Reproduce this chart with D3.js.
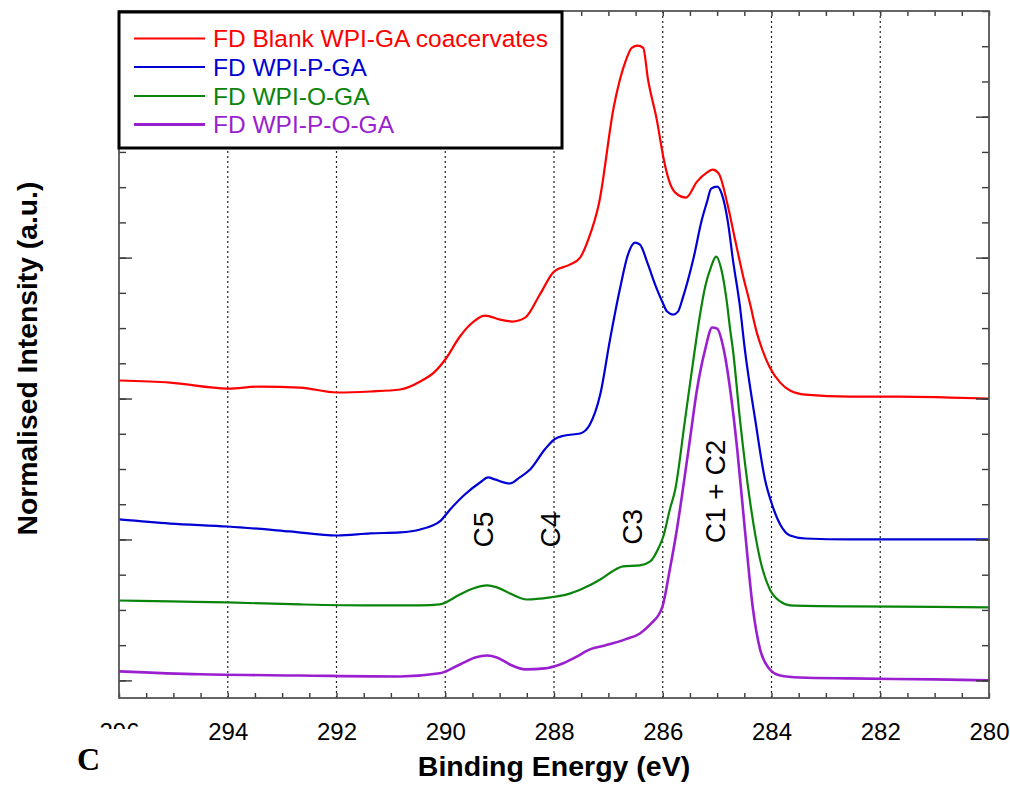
<!DOCTYPE html>
<html>
<head>
<meta charset="utf-8">
<script src="https://cdn.jsdelivr.net/npm/d3@7"></script>
<style>
  html, body { margin: 0; padding: 0; background: #fff; }
  svg { display: block; }
</style>
</head>
<body>
<svg id="chart" width="1010" height="785"></svg>
<script>
// C 1s XPS spectra, offset stacked (binding energy in eV, normalised intensity)
const seriesNames = ["FD Blank WPI-GA coacervates", "FD WPI-P-GA", "FD WPI-O-GA", "FD WPI-P-O-GA"];
const seriesColors = ["#ff0000", "#0000d4", "#0a840a", "#9a1fd0"];
const seriesWidths = [2.2, 2.2, 2.2, 2.6];

const blankEnergy = [296.00, 295.06, 294.00, 293.41, 292.67, 291.99, 291.38, 290.83, 290.46, 290.19, 290.00, 289.73, 289.54, 289.27, 288.99, 288.77, 288.53, 288.26, 288.00, 287.71, 287.52, 287.37, 287.17, 286.90, 286.68, 286.57, 286.46, 286.36, 286.27, 286.11, 285.98, 285.89, 285.77, 285.57, 285.37, 285.19, 285.08, 284.97, 284.80, 284.67, 284.52, 284.40, 284.27, 284.17, 284.03, 283.84, 283.66, 283.38, 282.56, 281.64, 280.72, 280.00];
const blankIntensity = [2.128, 2.113, 2.071, 2.085, 2.078, 2.043, 2.050, 2.064, 2.121, 2.191, 2.277, 2.440, 2.525, 2.589, 2.560, 2.546, 2.574, 2.738, 2.901, 2.950, 3.000, 3.128, 3.390, 4.071, 4.397, 4.489, 4.504, 4.489, 4.262, 3.979, 3.695, 3.553, 3.461, 3.426, 3.539, 3.603, 3.624, 3.596, 3.362, 3.128, 2.865, 2.681, 2.468, 2.348, 2.220, 2.113, 2.057, 2.028, 2.014, 2.014, 2.007, 2.000];

const pEnergy = [296.00, 295.06, 294.00, 292.86, 291.99, 291.38, 290.83, 290.46, 290.10, 289.91, 289.64, 289.36, 289.21, 289.09, 288.81, 288.63, 288.44, 288.17, 288.00, 287.80, 287.52, 287.34, 287.15, 286.97, 286.79, 286.64, 286.51, 286.42, 286.27, 286.14, 286.01, 285.92, 285.81, 285.72, 285.63, 285.44, 285.28, 285.19, 285.11, 285.00, 284.91, 284.80, 284.71, 284.58, 284.49, 284.30, 284.12, 283.99, 283.84, 283.66, 283.38, 282.56, 281.00, 280.00];
const pIntensity = [1.142, 1.113, 1.092, 1.057, 1.028, 1.043, 1.050, 1.071, 1.128, 1.213, 1.319, 1.404, 1.440, 1.426, 1.397, 1.440, 1.496, 1.638, 1.709, 1.738, 1.752, 1.816, 2.028, 2.418, 2.773, 3.021, 3.106, 3.092, 2.950, 2.809, 2.688, 2.617, 2.596, 2.617, 2.716, 2.986, 3.270, 3.390, 3.489, 3.504, 3.447, 3.248, 2.986, 2.652, 2.348, 1.851, 1.426, 1.248, 1.106, 1.028, 1.007, 1.000, 1.000, 1.000];

const oEnergy = [296.00, 295.06, 294.00, 292.67, 291.38, 290.46, 290.10, 289.73, 289.49, 289.23, 289.05, 288.81, 288.50, 288.07, 287.76, 287.47, 287.15, 286.93, 286.73, 286.42, 286.23, 286.09, 285.99, 285.87, 285.77, 285.59, 285.41, 285.32, 285.22, 285.11, 285.02, 284.91, 284.82, 284.76, 284.71, 284.58, 284.40, 284.21, 284.03, 283.84, 283.66, 282.56, 281.00, 280.00];
const oIntensity = [0.567, 0.560, 0.553, 0.539, 0.532, 0.532, 0.539, 0.610, 0.652, 0.674, 0.660, 0.617, 0.574, 0.589, 0.610, 0.652, 0.716, 0.773, 0.809, 0.816, 0.844, 0.929, 1.021, 1.213, 1.355, 1.851, 2.348, 2.582, 2.794, 2.936, 3.007, 2.894, 2.681, 2.489, 2.348, 1.851, 1.284, 0.858, 0.645, 0.560, 0.532, 0.525, 0.522, 0.518];

const poEnergy = [296.00, 294.51, 292.67, 290.83, 290.10, 289.73, 289.45, 289.23, 289.05, 288.81, 288.53, 288.17, 287.89, 287.61, 287.34, 287.06, 286.69, 286.42, 286.23, 286.01, 285.87, 285.74, 285.63, 285.50, 285.37, 285.22, 285.09, 285.00, 284.89, 284.76, 284.63, 284.49, 284.34, 284.21, 284.06, 283.84, 283.48, 282.56, 281.00, 280.00];
const poIntensity = [0.064, 0.043, 0.035, 0.028, 0.050, 0.113, 0.163, 0.177, 0.163, 0.113, 0.078, 0.085, 0.113, 0.163, 0.220, 0.248, 0.291, 0.333, 0.397, 0.518, 0.787, 1.071, 1.355, 1.709, 2.064, 2.348, 2.504, 2.496, 2.369, 2.064, 1.638, 1.071, 0.504, 0.220, 0.092, 0.035, 0.021, 0.014, 0.007, 0.000];

const energyTicks = [296, 294, 292, 290, 288, 286, 284, 282, 280];
const gridEnergies = [294, 292, 290, 288, 286, 284, 282];

// component labels: [text, energy, intensity]
const peakLabels = [["C5", 289.12, 1.07], ["C4", 287.89, 1.07], ["C3", 286.38, 1.09], ["C1 + C2", 284.86, 1.34]];

const xLabel = "Binding Energy (eV)";
const yLabel = "Normalised Intensity (a.u.)";
const panelLetter = "C";

const seriesData = [
  blankEnergy.map((e, i) => [e, blankIntensity[i]]),
  pEnergy.map((e, i) => [e, pIntensity[i]]),
  oEnergy.map((e, i) => [e, oIntensity[i]]),
  poEnergy.map((e, i) => [e, poIntensity[i]])
];

const svg = d3.select("#chart");
const plotL = 119, plotR = 989, plotT = 11, plotB = 698;
const x = d3.scaleLinear().domain([296, 280]).range([plotL, plotR]);
const y = d3.scaleLinear().domain([-0.125, 4.75]).range([plotB, plotT]);
const font = "'Liberation Sans', Arial, Helvetica, sans-serif";
const axisColor = "#3a3a3a";

// dotted vertical guides
svg.append("g").selectAll("line").data(gridEnergies).join("line")
  .attr("x1", d => x(d)).attr("x2", d => x(d))
  .attr("y1", plotT).attr("y2", plotB)
  .attr("stroke", "#222").attr("stroke-width", 1.2)
  .attr("stroke-dasharray", "2,3");

// spectra
const line = d3.line().x(d => x(d[0])).y(d => y(d[1])).curve(d3.curveMonotoneX);
svg.append("g").selectAll("path").data(seriesData).join("path")
  .attr("d", d => line(d.slice().sort((a, b) => b[0] - a[0])))
  .attr("fill", "none")
  .attr("stroke", (d, i) => seriesColors[i])
  .attr("stroke-width", (d, i) => seriesWidths[i])
  .attr("stroke-linejoin", "round");

// axes: minor/major inward ticks on all four sides
const halfSteps = d3.range(296, 279.9, -0.5);
const quarterSteps = d3.range(0, 4.76, 0.25);
const majorY = [0, 1, 2, 3, 4];

function styleAxis(g) {
  g.select(".domain").remove();
  g.selectAll("line").attr("stroke", axisColor).attr("stroke-width", 1.4);
  g.selectAll("text").remove();
}
svg.append("g").attr("transform", `translate(0,${plotB})`)
  .call(d3.axisBottom(x).tickValues(halfSteps).tickSizeInner(-5).tickSizeOuter(0)).call(styleAxis);
svg.append("g").attr("transform", `translate(0,${plotT})`)
  .call(d3.axisTop(x).tickValues(halfSteps).tickSizeInner(-5).tickSizeOuter(0)).call(styleAxis);
svg.append("g").attr("transform", `translate(${plotL},0)`)
  .call(d3.axisLeft(y).tickValues(quarterSteps).tickSizeInner(-7).tickSizeOuter(0)).call(styleAxis);
svg.append("g").attr("transform", `translate(${plotL},0)`)
  .call(d3.axisLeft(y).tickValues(majorY).tickSizeInner(-13).tickSizeOuter(0)).call(styleAxis);
svg.append("g").attr("transform", `translate(${plotR},0)`)
  .call(d3.axisRight(y).tickValues(quarterSteps).tickSizeInner(-7).tickSizeOuter(0)).call(styleAxis);
svg.append("g").attr("transform", `translate(${plotR},0)`)
  .call(d3.axisRight(y).tickValues(majorY).tickSizeInner(-13).tickSizeOuter(0)).call(styleAxis);

// frame
svg.append("rect").attr("x", plotL).attr("y", plotT)
  .attr("width", plotR - plotL).attr("height", plotB - plotT)
  .attr("fill", "none").attr("stroke", "#555").attr("stroke-width", 1.8);

// energy tick labels
const xLabels = svg.append("g").attr("transform", `translate(0,${plotB})`)
  .call(d3.axisBottom(x).tickValues(energyTicks).tickSize(0).tickPadding(25).tickFormat(d3.format("d")));
xLabels.select(".domain").remove();
xLabels.selectAll("text").attr("font-family", font).attr("font-size", 24).attr("fill", "#000");

// peak component labels (baseline on the right-hand side after rotation)
svg.append("g").selectAll("text").data(peakLabels).join("text")
  .attr("transform", d => `translate(${x(d[1])},${y(d[2])}) rotate(-90)`)
  .attr("text-anchor", "middle")
  .attr("font-family", font).attr("font-size", 28).attr("fill", "#000")
  .text(d => d[0]);

// panel letter block
svg.append("rect").attr("x", 55).attr("y", 729).attr("width", 120).attr("height", 56).attr("fill", "#fff");
svg.append("text").attr("x", 77).attr("y", 770)
  .attr("font-family", "'Liberation Serif', 'Times New Roman', serif").attr("font-weight", "bold")
  .attr("font-size", 32).attr("fill", "#000").text(panelLetter);

// axis titles
svg.append("text").attr("x", (plotL + plotR) / 2).attr("y", 776)
  .attr("text-anchor", "middle").attr("font-family", font).attr("font-weight", "bold")
  .attr("font-size", 28.5).attr("fill", "#000").text(xLabel);
svg.append("text").attr("transform", `translate(37,${(plotT + plotB) / 2 + 4}) rotate(-90)`)
  .attr("text-anchor", "middle").attr("font-family", font).attr("font-weight", "bold")
  .attr("font-size", 28.3).attr("fill", "#000").text(yLabel);

// legend
const legend = svg.append("g");
legend.append("rect").attr("x", 119).attr("y", 12).attr("width", 443).attr("height", 136)
  .attr("fill", "#fff").attr("stroke", "#000").attr("stroke-width", 3);
const rowY = [38.5, 67, 96, 124.5];
const rows = legend.selectAll("g.row").data(seriesNames).join("g").attr("class", "row")
  .attr("transform", (d, i) => `translate(0,${rowY[i]})`);
rows.append("line").attr("x1", 134).attr("x2", 205).attr("y1", 0).attr("y2", 0)
  .attr("stroke", (d, i) => seriesColors[i]).attr("stroke-width", (d, i) => i === 3 ? 3 : 2);
rows.append("text").attr("x", 213).attr("y", 8.5)
  .attr("font-family", font).attr("font-size", 24.5)
  .attr("fill", (d, i) => seriesColors[i]).text(d => d);
</script>
</body>
</html>
